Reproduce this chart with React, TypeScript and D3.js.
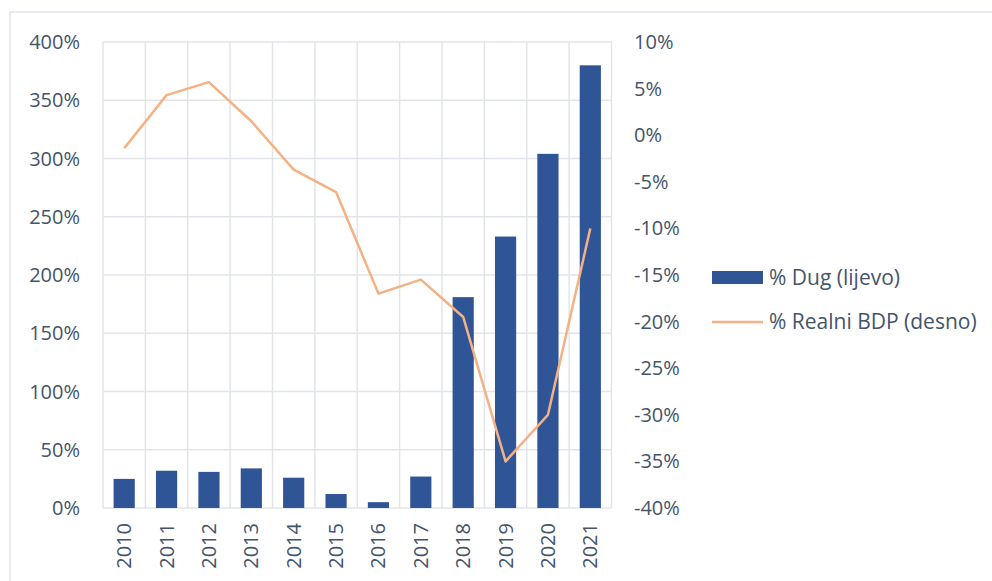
import React from "react";
import * as d3 from "d3";

const years = ["2010","2011","2012","2013","2014","2015","2016","2017","2018","2019","2020","2021"];
const debt = [25, 32, 31, 34, 26, 12, 5, 27, 181, 233, 304, 380];
const gdp = [-1.4, 4.3, 5.7, 1.5, -3.7, -6.1, -17, -15.5, -19.5, -35, -30, -10];
const leftTicks = [0, 50, 100, 150, 200, 250, 300, 350, 400];
const rightTicks = [10, 5, 0, -5, -10, -15, -20, -25, -30, -35, -40];
const legendLabels = ["% Dug (lijevo)", "% Realni BDP (desno)"];

const W = 992, H = 581;
const plot = { left: 103, right: 611.5, top: 42, bottom: 508 };
const textColor = "#44546a";
const gridColor = "#e1e5eb";
const barColor = "#2f5597";
const lineColor = "#f4b183";
const font = "'Open Sans', sans-serif";

export default function App() {
  const x = d3.scaleBand<string>().domain(years).range([plot.left, plot.right]).paddingInner(0).paddingOuter(0);
  const yL = d3.scaleLinear().domain([0, 400]).range([plot.bottom, plot.top]);
  const yR = d3.scaleLinear().domain([-40, 10]).range([plot.bottom, plot.top]);
  const bw = x.bandwidth() * 0.5;
  const line = d3.line<number>()
    .x((_, i) => (x(years[i]) as number) + x.bandwidth() / 2)
    .y((d) => yR(d));

  return (
    <svg width={W} height={H} style={{ position: "absolute", left: 0, top: 0, background: "#fff" }} fontFamily={font}>
      <rect x={10} y={12} width={1000} height={600} fill="none" stroke="#d9dee6" strokeWidth={1.2} />
      {leftTicks.map((t) => (
        <line key={"h" + t} x1={plot.left} x2={plot.right} y1={yL(t)} y2={yL(t)} stroke={gridColor} strokeWidth={1.5} />
      ))}
      {years.map((yr) => (
        <line key={"v" + yr} x1={x(yr) as number} x2={x(yr) as number} y1={plot.top} y2={plot.bottom} stroke={gridColor} strokeWidth={1.5} />
      ))}
      <line x1={plot.right} x2={plot.right} y1={plot.top} y2={plot.bottom} stroke={gridColor} strokeWidth={1.5} />
      {debt.map((v, i) => (
        <rect key={"b" + i} x={(x(years[i]) as number) + (x.bandwidth() - bw) / 2} y={yL(v)} width={bw} height={yL(0) - yL(v)} fill={barColor} />
      ))}
      <path d={line(gdp) || ""} fill="none" stroke={lineColor} strokeWidth={2.5} strokeLinejoin="round" />
      {leftTicks.map((t) => (
        <text key={"lt" + t} x={80} y={yL(t)} dy="0.35em" textAnchor="end" fontSize={20} fill={textColor}>{t}%</text>
      ))}
      {rightTicks.map((t) => (
        <text key={"rt" + t} x={634} y={yR(t)} dy="0.35em" textAnchor="start" fontSize={20} fill={textColor}>{t}%</text>
      ))}
      {years.map((yr) => (
        <text key={"xt" + yr} transform={`translate(${(x(yr) as number) + x.bandwidth() / 2},523) rotate(-90)`} dy="0.35em" textAnchor="end" fontSize={20} fill={textColor}>{yr}</text>
      ))}
      <rect x={712} y={271} width={51} height={13} fill={barColor} />
      <text x={769} y={278} dy="0.35em" fontSize={21} fill={textColor}>{legendLabels[0]}</text>
      <line x1={712} x2={763} y1={322} y2={322} stroke={lineColor} strokeWidth={2.5} />
      <text x={769} y={322} dy="0.35em" fontSize={21} fill={textColor}>{legendLabels[1]}</text>
    </svg>
  );
}
